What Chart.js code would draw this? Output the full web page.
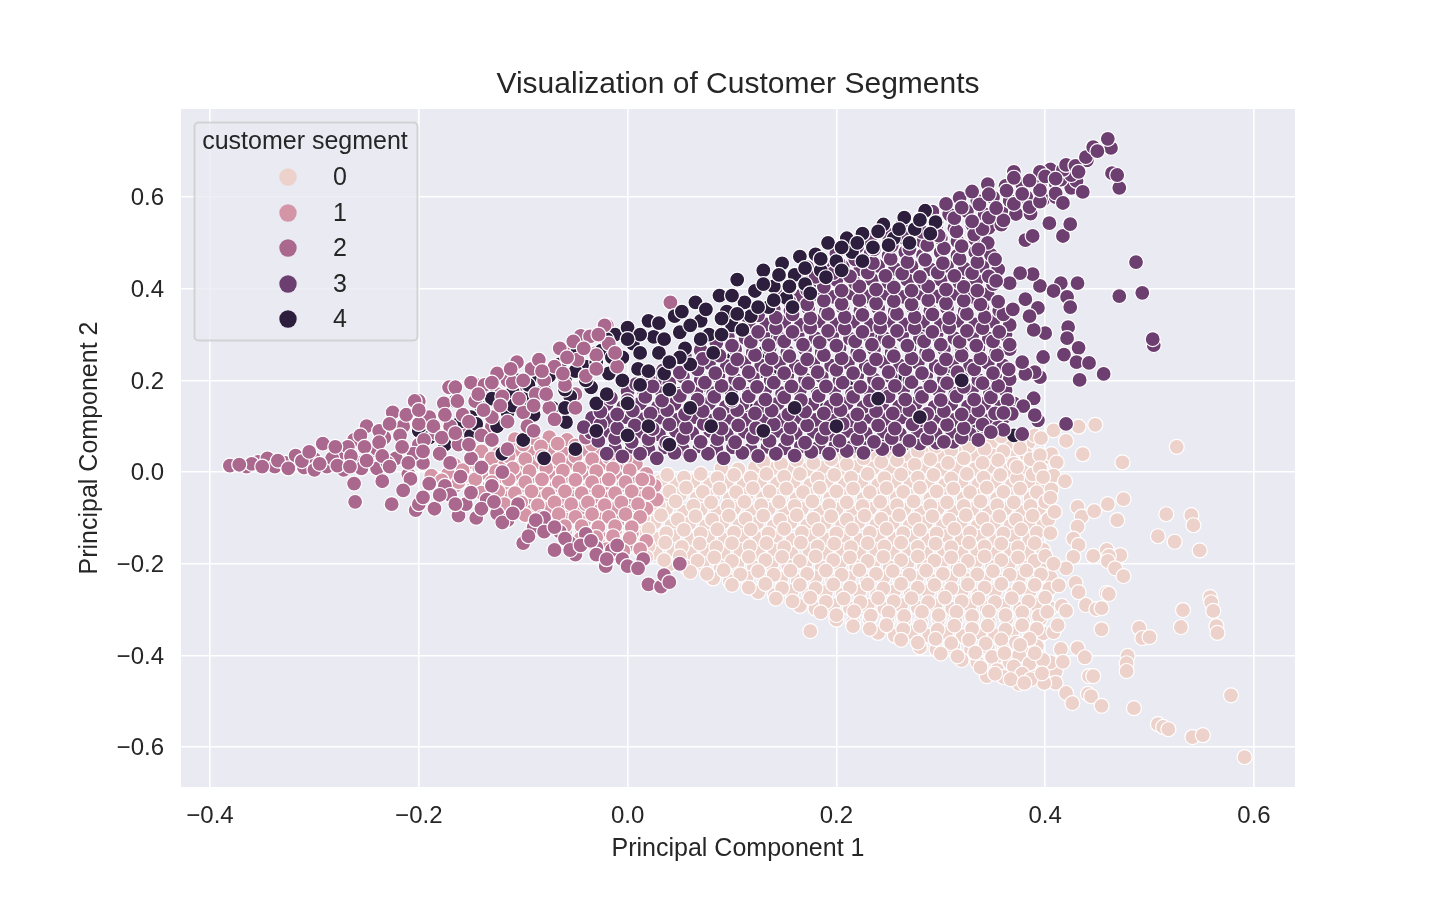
<!DOCTYPE html>
<html><head><meta charset="utf-8">
<script src="https://cdn.jsdelivr.net/npm/chart.js@4/dist/chart.umd.min.js"></script>
<style>html,body{margin:0;padding:0;background:#fff}canvas{display:block}</style>
</head><body><canvas id="c" width="1440" height="900" style="width:1440px;height:900px"></canvas>
<script>
const chartTitle = 'Visualization of Customer Segments';
const xLabel = 'Principal Component 1';
const yLabel = 'Principal Component 2';
const legendTitle = 'customer segment';
const segmentLabels = ['0','1','2','3','4'];
const segmentColors = ['#edd1cb','#d496a7','#aa688f','#6d3f71','#2d1e3e'];
const xTicks = [-0.4,-0.2,0,0.2,0.4,0.6];
const yTicks = [-0.6,-0.4,-0.2,0,0.2,0.4,0.6];

// x,y pairs
const seg2 = [
-.381,.014,-.365,.012,-.354,.022,-.345,.03,-.338,.012,-.328,.02,-.318,.036,-.31,.01,-.3,.028,-.292,.062,-.288,.012,-.276,.04,-.272,.005,-.262,.07,-.258,.02,-.25,.1,-.246,.045,-.24,.008,-.233,.075,-.225,.13,-.222,.03,-.215,.1,-.21,-.005,-.204,.155,-.2,.06,-.196,.02,-.19,.12,-.184,.085,-.18,.04,
-.176,.15,-.17,.1,-.165,.185,-.162,.06,-.158,.125,-.15,.195,-.146,.155,-.14,.08,-.137,.19,-.13,.12,-.125,.215,-.12,.165,-.115,.05,-.11,.195,-.106,.24,-.1,.13,-.096,.1,-.092,.225,-.088,.17,-.085,.245,-.08,.2,-.075,.14,-.07,.23,-.065,.27,-.06,.19,-.052,.285,-.048,.245,-.04,.21,-.036,.296,-.03,.255,-.022,.32,-.018,.28,-.01,.23,
-.36,.018,-.335,.025,-.3,.005,-.283,.03,-.268,.055,-.255,.008,-.24,.05,-.23,.02,-.205,.04,-.195,.07,-.17,.02,-.19,-.025,-.175,-.03,-.16,-.01,-.15,.03,-.14,.01,-.13,-.03,-.12,.0,
-.262,-.025,-.261,-.065,-.226,-.07,-.208,-.015,-.203,-.083,-.2,-.07,-.185,-.08,-.17,-.05,-.162,-.095,-.155,-.07,-.145,-.1,-.135,-.06,-.125,-.09,-.115,-.105,-.105,-.07,-.1,-.155,-.09,-.12,-.08,-.1,-.07,-.17,-.065,-.13,-.055,-.155,-.05,-.18,-.04,-.135,-.03,-.165,-.021,-.205,-.015,-.17,-.005,-.19,.015,-.19,.02,-.245,.032,-.25,.05,-.2
];
const seg2Fill = [
-.372,.016,-.35,.012,-.325,.008,-.312,.024,-.305,.044,-.295,.018,-.28,.055,-.278,.014,-.265,.035,-.266,.012,-.256,.08,-.252,.055,-.25,.025,-.238,.09,-.238,.065,-.235,.035,-.228,.105,-.228,.012,-.218,.08,-.216,.055,-.212,.125,-.21,.02,-.2,.105,-.2,.135,-.196,.045,-.186,.1,-.178,.075,-.175,.125,-.165,.085,-.163,.155,-.152,.11,-.152,.06,-.143,.17,-.138,.135,-.13,.07,-.13,.195,-.122,.145,-.115,.11,-.112,.225,-.104,.16,-.1,.2,-.09,.145,-.09,.09,-.082,.22,-.078,.17,-.07,.115,-.062,.215,-.058,.25,-.05,.14,-.042,.27,-.03,.225,-.028,.3,-.012,.26,
-.235,-.02,-.215,-.04,-.196,-.055,-.18,-.05,-.165,-.07,-.15,-.045,-.14,-.08,-.128,-.065,-.12,-.11,-.11,-.09,-.095,-.14,-.088,-.105,-.08,-.13,-.07,-.12,-.06,-.145,-.055,-.17,-.045,-.16,-.035,-.15,-.03,-.18,-.02,-.19,-.01,-.16,.0,-.205,.01,-.21,.035,-.225,.04,-.24
];
const seg4 = [
-.2,.09,-.19,.075,-.175,.06,-.165,.155,-.16,.11,-.15,.08,-.14,.14,-.135,.18,-.125,.1,-.12,.155,-.115,.13,-.105,.2,-.1,.16,-.09,.125,-.085,.21,-.08,.18,-.072,.14,-.065,.235,-.06,.2,-.055,.165,-.048,.265,-.04,.23,-.035,.185,-.03,.15,-.025,.265,-.018,.215,-.012,.3,-.005,.25,
.0,.315,.005,.28,.01,.225,.012,.19,.02,.33,.025,.295,.03,.26,.035,.215,.04,.18,.045,.34,.05,.305,.055,.27,.06,.235,.065,.37,.07,.33,.078,.3,.082,.26,.088,.385,.095,.35,.1,.32,.105,.42,.112,.37,.118,.34,.122,.395,.13,.44,.135,.36,.14,.405,.148,.455,.152,.38,.16,.43,.165,.47,.17,.41,.18,.475,.185,.44,.192,.5,.2,.46,.21,.51,.215,.48,.225,.52,.235,.49,.245,.54,.255,.51,.265,.555,.275,.53,.285,.57,.295,.545,
.0,.08,.02,.1,.04,.06,.06,.14,.08,.1,.1,.16,.13,.09,.16,.14,.2,.1,.24,.16,.28,.12,.32,.2,-.05,.05,-.03,.09,-.1,.07,-.12,.04,-.08,.03,-.15,.03,
-.02,.29,.012,.3,.012,.26,.03,.325,.035,.29,.05,.25,.052,.35,.06,.32,.07,.29,.075,.355,.09,.335,.09,.3,.1,.385,.105,.345,.11,.31,.125,.36,.13,.41,.14,.375,.145,.43,.155,.405,.158,.36,.17,.445,.175,.39,.185,.465,.19,.425,.205,.49,.205,.44,.22,.5,.225,.46,.24,.525,.25,.495,.26,.53,.27,.5,.28,.55,.29,.52,
-.17,.09,-.15,.12,-.13,.16,-.11,.175,-.095,.19,-.075,.21,-.05,.22,-.03,.24,-.015,.25,.0,.29,-.145,.105,-.11,.145,-.06,.18,-.04,.2,-.005,.2,.02,.22,.04,.24,-.02,.17,-.06,.14,.0,.15
];
const seg3 = [
-.02,.04,-.005,.034,.012,.04,.028,.03,.045,.042,.06,.036,.077,.04,.092,.03,.11,.042,.125,.035,.142,.04,.16,.036,.176,.044,.193,.04,.21,.046,.226,.042,.244,.05,.26,.048,
-.028,.068,-.012,.074,.004,.066,.02,.072,.037,.064,.053,.074,.07,.066,.086,.072,.103,.065,.12,.075,.136,.068,.153,.072,.17,.064,.186,.074,.203,.068,.22,.072,.236,.066,.253,.074,.27,.068,.287,.073,.303,.066,.32,.075,.336,.07,
-.042,.098,-.026,.104,-.01,.096,.007,.102,.024,.094,.04,.104,.056,.097,.073,.105,.09,.095,.106,.102,.123,.096,.14,.104,.156,.097,.172,.102,.19,.095,.206,.105,.223,.098,.24,.102,.256,.095,.273,.104,.29,.097,.306,.103,.322,.096,.34,.104,.355,.098,
-.026,.132,-.01,.126,.005,.134,.022,.128,.038,.135,.055,.126,.072,.133,.088,.127,.105,.135,.122,.128,.138,.134,.154,.126,.17,.132,.188,.128,.204,.135,.22,.126,.238,.133,.254,.128,.27,.135,.287,.127,.303,.133,.32,.126,.336,.134,.352,.128,.366,.135,
-.016,.162,.0,.157,.017,.164,.033,.156,.05,.166,.067,.158,.083,.164,.1,.156,.116,.165,.132,.158,.15,.163,.166,.157,.183,.166,.2,.158,.216,.164,.232,.156,.25,.165,.266,.158,.282,.164,.3,.157,.315,.165,.332,.158,.348,.163,.364,.157,
.008,.192,.024,.187,.04,.194,.058,.186,.074,.195,.09,.188,.107,.193,.124,.186,.14,.195,.157,.187,.173,.194,.19,.187,.206,.195,.223,.186,.24,.193,.256,.188,.272,.196,.29,.187,.306,.194,.322,.186,.34,.194,.355,.188,
.034,.222,.05,.217,.067,.224,.084,.216,.1,.225,.116,.218,.133,.223,.15,.216,.166,.225,.182,.218,.2,.223,.216,.216,.232,.225,.25,.218,.266,.224,.282,.216,.3,.225,.316,.218,.332,.224,.35,.216,.365,.224,
.055,.252,.072,.247,.088,.254,.105,.246,.122,.255,.138,.248,.155,.253,.172,.246,.188,.255,.205,.248,.222,.254,.238,.246,.255,.253,.272,.248,.288,.255,.305,.246,.32,.254,.338,.248,.354,.255,
.085,.282,.1,.276,.118,.284,.135,.277,.15,.285,.168,.278,.184,.283,.2,.276,.218,.285,.234,.278,.25,.284,.268,.276,.284,.285,.3,.278,.318,.284,.334,.276,.35,.285,.366,.278,
.108,.312,.125,.306,.142,.314,.158,.306,.175,.315,.192,.308,.208,.313,.225,.306,.242,.315,.258,.308,.275,.314,.292,.306,.308,.315,.325,.308,.34,.314,.356,.306,
.125,.342,.142,.337,.158,.344,.175,.336,.192,.345,.208,.338,.225,.343,.242,.336,.258,.345,.275,.338,.292,.344,.308,.336,.325,.345,.342,.338,.36,.344,
.155,.372,.172,.366,.188,.374,.205,.367,.222,.375,.238,.368,.255,.373,.272,.366,.288,.375,.305,.368,.322,.374,.338,.366,.355,.372,
.155,.402,.172,.397,.188,.404,.205,.396,.222,.405,.238,.398,.255,.403,.272,.396,.288,.405,.305,.398,.322,.404,.335,.396,
.162,.432,.18,.426,.197,.434,.213,.427,.23,.435,.247,.428,.263,.433,.28,.426,.297,.435,.313,.428,.33,.434,.346,.427,
.185,.462,.202,.457,.218,.464,.235,.456,.252,.465,.268,.458,.285,.463,.302,.456,.318,.465,.335,.458,.352,.464,
.22,.492,.236,.486,.253,.494,.27,.487,.287,.495,.303,.488,.32,.493,.336,.486,
.248,.522,.265,.517,.282,.524,.298,.516,.315,.525,.332,.518,.34,.53,
.28,.552,.296,.546,.313,.554,.33,.547,.346,.555,.36,.549,
.305,.585,.32,.577,.337,.584,.353,.576,.37,.585,.385,.578,.395,.59,
.33,.612,.346,.606,.363,.614,.378,.607,.395,.615,.41,.608,
.37,.642,.385,.636,.4,.645,.415,.638,.425,.648,
.398,.251,.395,.207,.39,.218,.381,.214,.378,.24,.4,.303,.389,.31,.389,.161,.379,.144,.393,.113,.39,.124,.368,.127,.36,.129,.42,.105,.378,.083,.36,.092,.348,.087,
.395,.406,.388,.432,.376,.434,.366,.412,.353,.417,.381,.377,.393,.358,.385,.34,.369,.355,
.431,.412,.415,.412,.408,.395,.421,.382,.424,.36,.422,.316,.421,.292,.432,.271,.418,.256,.43,.24,.442,.238,.456,.214,.433,.201,
.471,.384,.493,.391,.504,.277,.503,.29,.487,.458,.381,.506,.388,.515,.417,.515,.404,.543,.424,.541,.417,.587,.436,.611,.471,.62,.464,.652,.469,.648,.417,.659,.42,.67,.429,.668,.439,.687,.446,.709,.463,.707,.46,.727,.432,.655,.41,.64,.45,.7
];
const seg3Fill = [
-.012,.052,.004,.055,.02,.05,.036,.054,.053,.05,.069,.056,.085,.052,.101,.054,.118,.05,.134,.055,.15,.052,.166,.056,.183,.054,.199,.057,.215,.055,.231,.058,.248,.06,.264,.06,.28,.062,.296,.064,.312,.066,
-.035,.086,-.019,.09,-.003,.084,.013,.088,.03,.082,.046,.09,.062,.085,.079,.09,.095,.083,.112,.088,.128,.084,.144,.09,.161,.085,.178,.088,.194,.083,.211,.09,.228,.085,.245,.088,.261,.083,.278,.09,.295,.084,.311,.088,.328,.083,.345,.088,
-.034,.118,-.018,.113,-.002,.12,.014,.115,.031,.119,.047,.114,.064,.12,.08,.112,.097,.118,.113,.114,.13,.119,.146,.113,.163,.12,.18,.114,.196,.118,.213,.113,.23,.12,.246,.115,.262,.119,.28,.113,.296,.12,.313,.114,.328,.118,.346,.113,.36,.118,
-.02,.148,-.004,.143,.012,.15,.029,.142,.045,.149,.061,.143,.078,.15,.094,.142,.11,.148,.127,.143,.144,.15,.16,.142,.177,.148,.194,.143,.21,.15,.226,.142,.244,.149,.26,.143,.276,.15,.294,.142,.31,.148,.326,.143,.342,.149,.358,.143,.37,.15,
.0,.176,.016,.172,.032,.178,.05,.171,.066,.179,.082,.172,.099,.178,.116,.171,.132,.18,.148,.172,.165,.178,.182,.171,.198,.18,.215,.172,.232,.178,.248,.171,.264,.18,.281,.172,.298,.178,.314,.171,.33,.18,.347,.172,.362,.178,
.02,.206,.036,.202,.053,.208,.07,.201,.087,.209,.103,.202,.12,.208,.137,.201,.153,.21,.17,.202,.186,.208,.203,.201,.22,.21,.236,.202,.252,.208,.27,.201,.286,.21,.303,.202,.32,.208,.336,.201,.352,.21,.366,.203,
.045,.236,.062,.232,.078,.238,.095,.231,.112,.239,.128,.232,.145,.238,.161,.231,.178,.24,.195,.232,.211,.238,.228,.231,.245,.24,.261,.232,.278,.238,.295,.231,.311,.24,.328,.232,.345,.238,.36,.232,
.07,.266,.086,.262,.103,.268,.12,.261,.136,.269,.153,.262,.17,.268,.186,.261,.203,.27,.22,.262,.236,.268,.253,.261,.27,.27,.286,.262,.303,.268,.32,.261,.336,.27,.353,.262,.366,.268,
.096,.296,.113,.292,.13,.298,.146,.291,.163,.299,.18,.292,.196,.298,.213,.291,.23,.3,.246,.292,.263,.298,.28,.291,.296,.3,.313,.292,.33,.298,.346,.291,.362,.3,
.116,.326,.133,.322,.15,.328,.166,.321,.183,.329,.2,.322,.216,.328,.233,.321,.25,.33,.266,.322,.283,.328,.3,.321,.316,.33,.333,.322,.35,.328,.366,.321,
.14,.356,.156,.352,.173,.358,.19,.351,.206,.359,.223,.352,.24,.358,.256,.351,.273,.36,.29,.352,.306,.358,.323,.351,.34,.36,.356,.352,
.148,.388,.164,.383,.18,.389,.197,.382,.214,.39,.23,.383,.247,.389,.264,.382,.28,.39,.297,.383,.313,.389,.33,.382,.345,.388,
.168,.418,.184,.412,.2,.419,.218,.412,.234,.42,.25,.413,.268,.419,.284,.412,.3,.42,.318,.413,.334,.418,.35,.41,
.172,.447,.19,.443,.206,.449,.223,.442,.24,.45,.256,.443,.272,.449,.29,.442,.306,.45,.323,.443,.34,.449,.355,.442,
.2,.477,.216,.472,.233,.479,.25,.472,.266,.48,.283,.473,.3,.479,.316,.472,.333,.48,.348,.474,
.232,.507,.25,.502,.266,.509,.283,.502,.3,.51,.316,.503,.333,.508,.345,.5,
.262,.537,.28,.532,.296,.539,.313,.532,.33,.54,.346,.533,.358,.54,
.292,.568,.308,.562,.325,.569,.342,.562,.358,.57,.372,.563,.386,.564,
.318,.598,.335,.592,.35,.599,.366,.592,.382,.6,.398,.594,.41,.6,
.345,.628,.362,.624,.378,.628,.395,.624,.41,.63,.425,.62,
.405,.66,.395,.655,.37,.655,.43,.635,.44,.68
];
const seg4Top = [
.117,.135,.138,.216,.127,.22,.073,.19,-.02,.098,-.059,.109,.101,.249,.143,.29,.242,.303,.211,.325,.285,.31,.26,.2,.215,.205,.31,.23,.03,.2,.08,.245,.19,.14,.13,.26,.33,.09,.37,.08
];
const seg2Top = [
.041,.37,-.045,.297,-.02,.32,-.085,.245,-.115,.2,-.125,.17,-.145,.19,-.171,.185,-.2,.155,-.06,.26,-.075,.21,-.09,.14,-.03,.26,-.04,.075,-.16,.09,-.13,.1,-.105,.175,-.05,.17
];
const seg1 = [
-.108,.072,-.09,.068,-.075,.076,-.058,.07,-.04,.075,
-.14,.045,-.124,.04,-.108,.048,-.092,.042,-.076,.046,-.06,.04,-.044,.048,-.028,.042,-.012,.04,
-.166,.016,-.15,.022,-.134,.014,-.118,.02,-.102,.012,-.086,.022,-.07,.015,-.054,.02,-.038,.012,-.022,.02,-.006,.014,.008,.018,
-.188,-.008,-.172,-.004,-.156,-.01,-.14,-.003,-.124,-.012,-.108,-.005,-.092,-.01,-.076,-.003,-.06,-.011,-.044,-.004,-.028,-.012,-.012,-.005,.004,-.01,.018,-.004,
-.165,-.03,-.148,-.035,-.132,-.028,-.116,-.036,-.1,-.03,-.084,-.036,-.068,-.028,-.052,-.035,-.036,-.03,-.02,-.037,-.004,-.028,.012,-.036,.026,-.03,
-.128,-.058,-.112,-.053,-.096,-.06,-.08,-.054,-.064,-.06,-.048,-.052,-.032,-.06,-.016,-.054,.0,-.06,.016,-.053,.028,-.06,
-.108,-.08,-.092,-.086,-.076,-.08,-.06,-.086,-.044,-.078,-.028,-.085,-.012,-.08,.004,-.086,.018,-.08,
-.09,-.104,-.074,-.11,-.058,-.104,-.042,-.11,-.026,-.103,-.01,-.11,.006,-.104,
-.06,-.132,-.044,-.128,-.028,-.134,-.012,-.128,.004,-.134,-.04,-.07,.02,-.02,-.03,-.015,
-.028,-.155,-.012,-.15,.002,-.158,.018,-.15,
-.1,.06,-.083,.056,-.067,.062,-.05,.058,-.034,.06,-.13,.03,-.114,.034,-.098,.028,-.082,.034,-.066,.028,-.05,.034,-.034,.028,-.018,.032,-.002,.03,-.158,.004,-.142,.008,-.126,.002,-.11,.008,-.094,.002,-.078,.009,-.062,.003,-.046,.008,-.03,.002,-.014,.008,.002,.004,-.178,-.018,-.162,-.022,-.146,-.016,-.13,-.022,-.114,-.016,-.098,-.022,-.082,-.016,-.066,-.022,-.05,-.017,-.034,-.022,-.018,-.016,-.002,-.022,.014,-.016,-.14,-.045,-.124,-.042,-.108,-.046,-.092,-.042,-.076,-.047,-.06,-.042,-.044,-.046,-.028,-.042,-.012,-.046,.004,-.042,.02,-.046,-.118,-.07,-.102,-.066,-.086,-.072,-.07,-.066,-.054,-.07,-.038,-.066,-.022,-.072,-.006,-.066,.01,-.07,-.098,-.094,-.082,-.098,-.066,-.092,-.05,-.098,-.034,-.092,-.018,-.098,-.002,-.092,.012,-.098,-.076,-.122,-.06,-.118,-.044,-.118,-.028,-.12,-.012,-.118,.004,-.12,-.045,-.145,-.03,-.142,-.014,-.14,.002,-.144,-.02,-.168,-.004,-.172,.012,-.168
];
const seg0 = [
.358,.078,.375,.07,.39,.08,
.262,.052,.278,.045,.295,.055,.31,.048,.327,.056,.342,.05,.36,.045,.376,.052,
.13,.022,.147,.018,.162,.026,.178,.02,.195,.028,.21,.017,.226,.03,.243,.022,.258,.026,.275,.016,.29,.028,.307,.02,.322,.03,.34,.02,.355,.026,.37,.018,.386,.028,
.038,-.006,.054,-.012,.07,-.004,.086,-.013,.102,-.006,.118,-.012,.133,-.004,.15,-.01,.165,-.004,.182,-.014,.198,-.006,.214,-.012,.23,-.004,.246,-.013,.262,-.005,.278,-.012,.293,-.006,.31,-.014,.325,-.004,.341,-.012,.357,-.006,.373,-.014,.388,-.005,
.024,-.036,.04,-.042,.056,-.034,.072,-.043,.088,-.036,.104,-.044,.12,-.035,.136,-.042,.152,-.036,.168,-.044,.184,-.034,.2,-.042,.216,-.036,.232,-.044,.248,-.035,.264,-.043,.28,-.034,.296,-.042,.312,-.036,.328,-.044,.344,-.034,.36,-.043,.376,-.036,.392,-.044,
.012,-.066,.03,-.072,.046,-.064,.063,-.073,.08,-.066,.096,-.074,.112,-.065,.128,-.072,.145,-.065,.16,-.074,.177,-.064,.193,-.072,.21,-.066,.225,-.074,.242,-.065,.258,-.072,.274,-.064,.29,-.073,.306,-.066,.322,-.074,.338,-.064,.354,-.072,.37,-.066,.386,-.074,.4,-.065,
-.002,-.096,.015,-.102,.032,-.094,.048,-.103,.065,-.096,.081,-.104,.097,-.095,.113,-.102,.13,-.095,.146,-.104,.162,-.094,.178,-.102,.195,-.096,.21,-.104,.227,-.095,.243,-.102,.26,-.094,.275,-.103,.292,-.096,.308,-.104,.324,-.094,.34,-.102,.356,-.096,.372,-.104,.388,-.095,.403,-.103,
-.012,-.126,.004,-.132,.02,-.124,.037,-.133,.054,-.126,.07,-.134,.086,-.125,.102,-.132,.118,-.125,.135,-.134,.15,-.124,.167,-.132,.183,-.126,.2,-.134,.215,-.125,.232,-.132,.248,-.124,.264,-.133,.28,-.126,.296,-.134,.313,-.124,.328,-.132,.345,-.126,.36,-.134,.377,-.125,.392,-.132,
.003,-.156,.02,-.162,.036,-.154,.052,-.163,.069,-.156,.085,-.164,.1,-.155,.117,-.162,.133,-.155,.15,-.164,.166,-.154,.182,-.162,.198,-.156,.214,-.164,.23,-.155,.246,-.162,.262,-.154,.278,-.163,.295,-.156,.31,-.164,.327,-.154,.342,-.162,.358,-.156,.374,-.164,.39,-.155,
.018,-.186,.035,-.192,.05,-.184,.067,-.193,.083,-.186,.1,-.194,.116,-.185,.132,-.192,.148,-.185,.165,-.194,.18,-.184,.197,-.192,.213,-.186,.23,-.194,.245,-.185,.262,-.192,.278,-.184,.294,-.193,.31,-.186,.326,-.194,.342,-.184,.358,-.192,.374,-.186,.39,-.194,.4,-.183,
.06,-.218,.076,-.222,.092,-.214,.108,-.223,.125,-.216,.14,-.224,.156,-.215,.172,-.222,.19,-.215,.205,-.224,.222,-.214,.238,-.222,.254,-.216,.27,-.224,.286,-.215,.302,-.222,.318,-.214,.335,-.223,.35,-.216,.366,-.224,.382,-.215,.396,-.223,
.1,-.246,.116,-.252,.132,-.244,.148,-.253,.165,-.246,.18,-.254,.197,-.245,.213,-.252,.23,-.245,.245,-.254,.262,-.244,.278,-.252,.294,-.246,.31,-.254,.326,-.245,.342,-.252,.358,-.244,.375,-.253,.39,-.246,.404,-.254,
.142,-.276,.158,-.282,.175,-.274,.19,-.283,.207,-.276,.223,-.284,.24,-.275,.255,-.282,.272,-.275,.288,-.284,.304,-.274,.32,-.282,.336,-.276,.352,-.284,.368,-.275,.384,-.282,.4,-.274,
.185,-.306,.2,-.312,.217,-.304,.233,-.313,.25,-.306,.265,-.314,.282,-.305,.298,-.312,.315,-.305,.33,-.314,.346,-.304,.362,-.312,.378,-.306,.394,-.314,
.216,-.336,.232,-.342,.248,-.334,.264,-.343,.28,-.336,.297,-.344,.313,-.335,.33,-.342,.345,-.335,.362,-.344,.378,-.334,.392,-.342,
.262,-.366,.278,-.372,.295,-.364,.31,-.373,.327,-.366,.343,-.374,.358,-.365,.372,-.372,.385,-.364,
.3,-.396,.316,-.402,.333,-.394,.349,-.403,.375,-.4,.385,-.418,.398,-.41,
.338,-.426,.354,-.432,.37,-.424,.378,-.44,.36,-.447,.352,-.44,
.175,-.347,
.526,.055,.474,.021,.436,.039,.448,.103,.432,.099,.408,.091,.42,.068,.396,.074,.406,.039,.395,.037,.411,.021,.395,.008,.373,.011,.408,-.008,.419,-.02,.398,-.011,.406,-.038,.405,-.056,.409,-.087,.431,-.076,.435,-.097,.447,-.085,.46,-.07,.475,-.059,.469,-.105,.431,-.119,.427,-.145,.432,-.159,.405,-.133,
.516,-.092,.54,-.094,.542,-.116,.508,-.14,.524,-.152,.548,-.171,.459,-.17,.472,-.181,.446,-.183,.461,-.183,.46,-.194,.467,-.21,.475,-.227,.427,-.185,.42,-.21,.408,-.2,.429,-.242,.432,-.262,.413,-.247,.416,-.292,.42,-.303,.459,-.264,.461,-.266,.439,-.29,.449,-.299,.454,-.297,.454,-.343,
.532,-.301,.53,-.338,.558,-.273,.559,-.284,.561,-.303,.564,-.336,.565,-.351,.49,-.34,.493,-.362,.5,-.36,.408,-.349,.415,-.386,.417,-.414,.431,-.384,.438,-.404,.479,-.401,.478,-.417,.478,-.434,.442,-.445,.446,-.445,.42,-.482,.426,-.504,.441,-.484,.444,-.489,.454,-.51,.485,-.515,.508,-.55,.513,-.556,.518,-.561,.541,-.578,.551,-.574,.578,-.487,.591,-.622,
.399,-.46,.386,-.452,.367,-.452,.38,-.46,.397,-.439,.39,-.395,.376,-.377,.361,-.395,.412,-.334,.402,-.305
];
const seg0Fill = [
.348,.064,.366,.06,.384,.064,
.205,.035,.222,.038,.238,.032,.254,.04,.27,.034,.286,.038,.302,.033,.318,.04,.334,.035,.35,.036,.366,.034,.382,.038,.398,.03,
.09,.008,.106,.006,.122,.01,.138,.007,.155,.01,.171,.005,.187,.01,.203,.006,.219,.012,.235,.008,.251,.01,.267,.006,.284,.011,.3,.006,.316,.01,.333,.007,.349,.012,.365,.005,.381,.01,.396,.006,
.032,-.02,.047,-.026,.063,-.02,.079,-.027,.095,-.022,.111,-.028,.127,-.02,.143,-.026,.159,-.021,.175,-.028,.191,-.02,.208,-.027,.224,-.021,.24,-.028,.256,-.02,.271,-.026,.288,-.021,.304,-.028,.32,-.02,.336,-.027,.352,-.021,.368,-.028,.384,-.02,.398,-.025,
.018,-.05,.034,-.056,.05,-.05,.066,-.057,.082,-.052,.098,-.058,.114,-.05,.13,-.056,.146,-.051,.162,-.058,.178,-.05,.194,-.057,.21,-.051,.226,-.058,.242,-.05,.258,-.056,.274,-.051,.29,-.058,.306,-.05,.322,-.057,.338,-.051,.354,-.058,.37,-.05,.386,-.057,.402,-.05,
.005,-.08,.021,-.086,.037,-.08,.054,-.087,.07,-.082,.086,-.088,.102,-.08,.119,-.086,.135,-.081,.151,-.088,.167,-.08,.184,-.087,.2,-.081,.216,-.088,.232,-.08,.248,-.086,.265,-.081,.281,-.088,.297,-.08,.313,-.087,.33,-.081,.346,-.088,.362,-.08,.378,-.087,.394,-.08,
-.006,-.11,.01,-.116,.026,-.11,.042,-.117,.059,-.112,.075,-.118,.091,-.11,.107,-.116,.124,-.111,.14,-.118,.156,-.11,.172,-.117,.189,-.111,.205,-.118,.221,-.11,.238,-.116,.254,-.111,.27,-.118,.286,-.11,.302,-.117,.319,-.111,.335,-.118,.351,-.11,.367,-.117,.384,-.11,.398,-.116,
.012,-.14,.028,-.146,.044,-.14,.061,-.147,.077,-.142,.093,-.148,.11,-.14,.126,-.146,.142,-.141,.158,-.148,.175,-.14,.19,-.147,.207,-.141,.223,-.148,.24,-.14,.256,-.146,.272,-.141,.288,-.148,.305,-.14,.32,-.147,.337,-.141,.353,-.148,.37,-.14,.385,-.147,
.011,-.17,.027,-.176,.044,-.17,.06,-.177,.076,-.172,.092,-.178,.108,-.17,.125,-.176,.141,-.171,.157,-.178,.174,-.17,.19,-.177,.206,-.171,.222,-.178,.238,-.17,.254,-.176,.27,-.171,.286,-.178,.303,-.17,.32,-.177,.335,-.171,.352,-.178,.367,-.17,.383,-.177,.398,-.17,
.04,-.202,.056,-.207,.072,-.2,.089,-.207,.105,-.202,.121,-.208,.138,-.2,.154,-.206,.17,-.201,.186,-.208,.203,-.2,.219,-.207,.235,-.201,.251,-.208,.268,-.2,.284,-.206,.3,-.201,.316,-.208,.333,-.2,.349,-.207,.365,-.201,.381,-.208,.397,-.2,
.082,-.232,.098,-.238,.114,-.23,.131,-.237,.147,-.232,.163,-.238,.18,-.23,.196,-.236,.212,-.231,.229,-.238,.245,-.23,.261,-.237,.277,-.231,.293,-.238,.31,-.23,.326,-.236,.342,-.231,.358,-.238,.375,-.23,.391,-.237,.405,-.23,
.125,-.262,.141,-.268,.157,-.26,.174,-.267,.19,-.262,.206,-.268,.222,-.26,.239,-.266,.255,-.261,.271,-.268,.288,-.26,.304,-.267,.32,-.261,.336,-.268,.352,-.26,.369,-.266,.385,-.261,.401,-.268,
.165,-.292,.18,-.298,.197,-.29,.213,-.297,.23,-.292,.246,-.298,.262,-.29,.278,-.296,.295,-.291,.311,-.298,.328,-.29,.344,-.297,.36,-.291,.376,-.298,.392,-.29,.405,-.297,
.2,-.322,.216,-.328,.232,-.32,.249,-.327,.265,-.322,.281,-.328,.298,-.32,.314,-.326,.33,-.321,.346,-.328,.363,-.32,.379,-.327,.395,-.321,
.24,-.351,.256,-.357,.272,-.35,.289,-.357,.305,-.352,.321,-.358,.337,-.35,.352,-.356,.368,-.351,.385,-.35,.398,-.352,
.28,-.382,.296,-.387,.312,-.38,.329,-.387,.345,-.382,.361,-.388,.377,-.385,.392,-.38,
.32,-.41,.335,-.415,.351,-.41,.366,-.415,.381,-.43,.392,-.43,.41,-.435,.405,-.415,
.344,-.445,.37,-.44,.395,-.45,.41,-.46,.375,-.462
];

const toPoints = flat => { const p=[]; for(let i=0;i<flat.length;i+=2) p.push({x:flat[i],y:flat[i+1]}); return p; };
const mk = (name,flat,ci) => ({label:name,data:toPoints(flat),backgroundColor:segmentColors[ci],borderColor:'#ffffff',borderWidth:1.2,pointRadius:7.5,pointHoverRadius:7.5});
const fmt = v => v.toFixed(1).replace('-','\u2212');
const FONT = '"Liberation Sans", Arial, sans-serif';
const ink = '#262626';

const legendBox = {
  id:'legendBox',
  afterDraw(c){
    const g=c.ctx; g.save();
    const l=194.5,t=122.5,w=223,h=218,r=4;
    g.beginPath(); g.roundRect(l,t,w,h,r);
    g.fillStyle='rgba(234,234,242,0.8)'; g.fill();
    g.lineWidth=2; g.strokeStyle='rgba(204,204,204,0.8)'; g.stroke();
    g.font='25px '+FONT; g.fillStyle=ink; g.textBaseline='middle'; g.textAlign='center';
    g.fillText(legendTitle,305,142.5);
    const ys=[177,213,248,284,319];
    segmentLabels.forEach((s,i)=>{
      g.beginPath(); g.arc(288,ys[i],8.7,0,Math.PI*2); g.fillStyle=segmentColors[i]; g.fill();
      g.fillStyle=ink; g.fillText(s,340,ys[i]+1);
    });
    g.restore();
  }
};

new Chart(document.getElementById('c'),{
  type:'scatter',
  data:{datasets:[
    mk('2',seg2.concat(seg2Fill),2), mk('4',seg4,4), mk('3',seg3Fill.concat(seg3),3), mk('4 ',seg4Top,4), mk('2 ',seg2Top,2), mk('1',seg1,1), mk('0',seg0Fill.concat(seg0),0)
  ]},
  options:{
    responsive:false, animation:false, events:[],
    layout:{padding:{right:145,top:0,left:0,bottom:0}},
    plugins:{
      legend:{display:false}, tooltip:{enabled:false},
      title:{display:true,text:chartTitle,fullSize:false,color:ink,font:{family:FONT,size:30,weight:'normal'},padding:{top:67,bottom:6}}
    },
    scales:{
      x:{type:'linear',min:-0.4278,max:0.6393,
        afterBuildTicks:s=>{s.ticks=xTicks.map(v=>({value:v}))},
        afterFit:s=>{s.height=113},
        grid:{color:'#ffffff',lineWidth:1.6,drawTicks:false},border:{display:false},
        ticks:{callback:v=>fmt(v),color:ink,font:{family:FONT,size:24},padding:15,maxRotation:0,autoSkip:false},
        title:{display:true,text:xLabel,color:ink,font:{family:FONT,size:25},padding:{top:0,bottom:36}}},
      y:{type:'linear',min:-0.687,max:0.792,
        afterBuildTicks:s=>{s.ticks=yTicks.map(v=>({value:v}))},
        afterFit:s=>{s.width=181},
        grid:{color:'#ffffff',lineWidth:1.6,drawTicks:false},border:{display:false},
        ticks:{callback:v=>fmt(v),color:ink,font:{family:FONT,size:24},padding:17,autoSkip:false,labelOffset:1.5},
        title:{display:true,text:yLabel,color:ink,font:{family:FONT,size:25},padding:{top:75,bottom:0}}}
    }
  },
  plugins:[{id:'plotBg',beforeDraw(c){const a=c.chartArea,g=c.ctx;g.save();g.fillStyle='#ffffff';g.fillRect(0,0,c.width,c.height);g.fillStyle='#eaeaf2';g.fillRect(a.left,a.top,a.right-a.left,a.bottom-a.top);g.restore();}},legendBox]
});
</script></body></html>
